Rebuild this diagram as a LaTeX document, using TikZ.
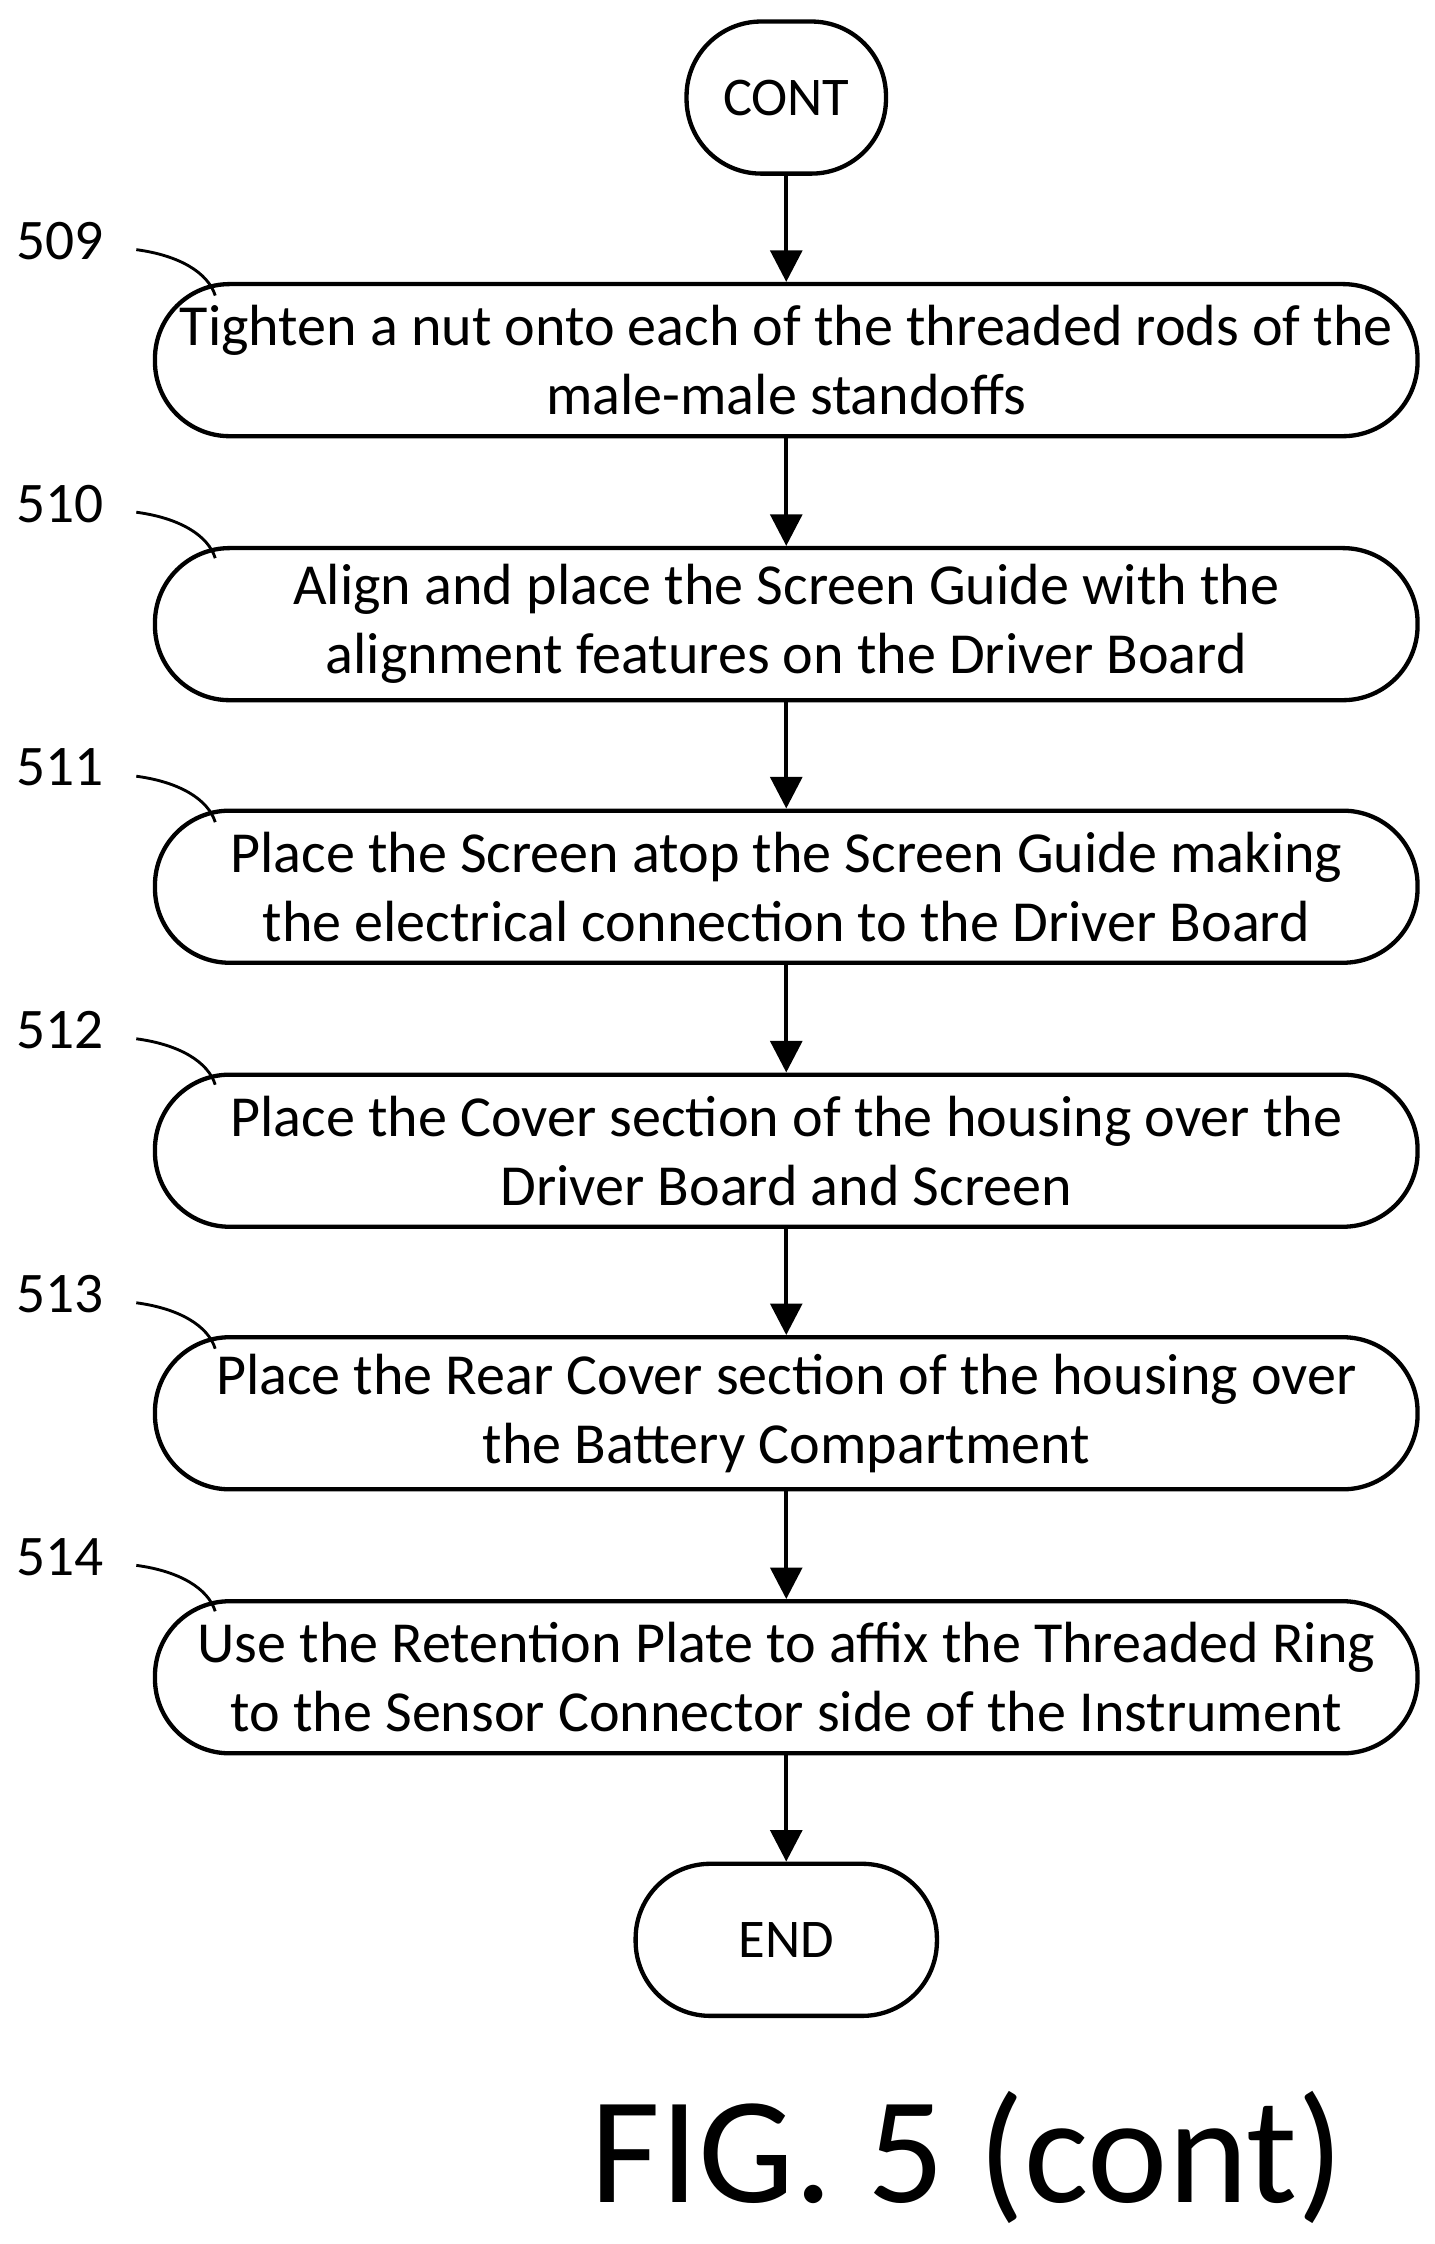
\documentclass[tikz,border=0pt]{standalone}
\usepackage{fontspec}
\setmainfont{Carlito}
\usetikzlibrary{arrows.meta}
\begin{document}
\begin{tikzpicture}[x=1pt,y=-1pt,
 box/.style={draw,line width=3pt,rounded corners=52pt,minimum width=880pt,minimum height=106pt,align=center,inner sep=0pt,font=\fontsize{40.5}{48}\selectfont},
 term/.style={draw,line width=3pt,rounded corners=52pt,minimum height=106pt,font=\fontsize{38}{48}\selectfont},
 arr/.style={line width=3pt,-{Triangle[length=22pt,width=22pt]}},
 lab/.style={font=\fontsize{40}{40}\selectfont},
 lead/.style={line width=2pt}]
\useasboundingbox (0,0) rectangle (1000,1564);
\node[term,minimum width=139pt] (c) at (548,68) {CONT};
\node[box] (b1) at (548,251) {Tighten a nut onto each of the threaded rods of the\\male-male standoffs};
\node[box] (b2) at (548,435) {Align and place the Screen Guide with the\\alignment features on the Driver Board};
\node[box] (b3) at (548,618) {Place the Screen atop the Screen Guide making\\the electrical connection to the Driver Board};
\node[box] (b4) at (548,802) {Place the Cover section of the housing over the\\Driver Board and Screen};
\node[box] (b5) at (548,985) {Place the Rear Cover section of the housing over\\the Battery Compartment};
\node[box] (b6) at (548,1169) {Use the Retention Plate to affix the Threaded Ring\\to the Sensor Connector side of the Instrument};
\node[term,minimum width=210pt] (e) at (548,1352) {END};
\draw[arr] (c) -- (b1);
\draw[arr] (b1) -- (b2);
\draw[arr] (b2) -- (b3);
\draw[arr] (b3) -- (b4);
\draw[arr] (b4) -- (b5);
\draw[arr] (b5) -- (b6);
\draw[arr] (b6) -- (e);
\foreach \n/\t/\y in {1/509/168,2/510/351,3/511/535,4/512/718,5/513/902,6/514/1085}{
  \node[lab] (l\n) at (42,\y) {\t};
  \coordinate (s\n) at (95,\y+6);
  \coordinate (t\n) at (150,\y+38);
  \draw[lead] (s\n) .. controls (125,\y+10) and (145,\y+22) .. (t\n);
}
\node[font=\fontsize{106}{106}\selectfont,anchor=base west] (fig) at (408,1535) {FIG. 5 (cont)};
\end{tikzpicture}
\end{document}
